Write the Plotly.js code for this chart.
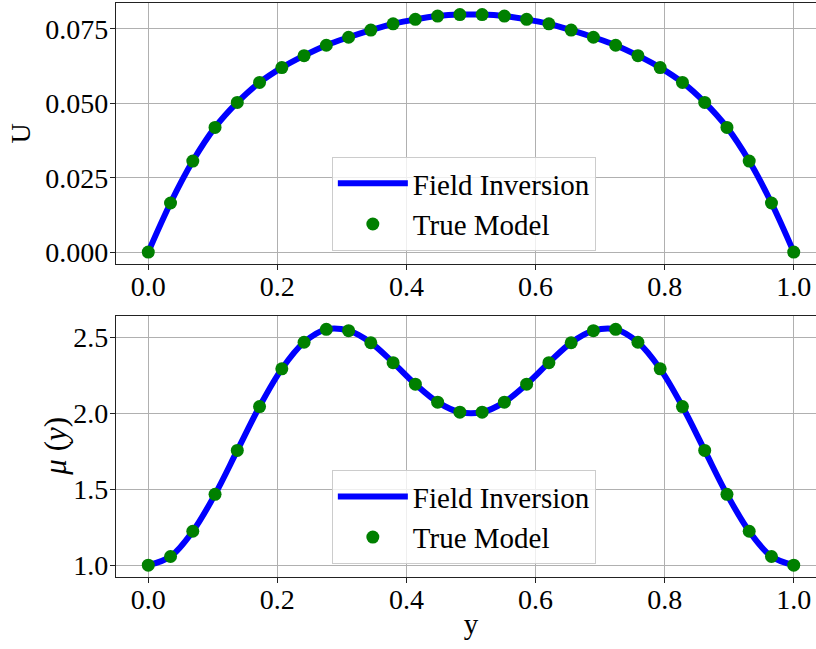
<!DOCTYPE html>
<html>
<head>
<meta charset="utf-8">
<script src="https://cdn.plot.ly/plotly-3.0.1.min.js"></script>
<style>
html,body{margin:0;padding:0;overflow:hidden;width:816px;height:649px;background:#fff;}
#chart{width:826px;height:649px;}
</style>
</head>
<body>
<div id="chart"></div>
<script>
// y positions (30 points, i/29)
var yPos = [];
for (var i = 0; i < 30; i++) { yPos.push(i / 29); }

// Velocity U
var uValues = [0.0, 0.0165, 0.0306, 0.0419, 0.0503, 0.0570, 0.0620, 0.0660, 0.0695, 0.0722,
               0.0746, 0.0767, 0.0782, 0.0793, 0.0798, 0.0798, 0.0793, 0.0782, 0.0767, 0.0746,
               0.0722, 0.0695, 0.0660, 0.0620, 0.0570, 0.0503, 0.0419, 0.0306, 0.0165, 0.0];

// Viscosity mu(y)
var muValues = [1.000, 1.057, 1.223, 1.466, 1.755, 2.044, 2.292, 2.467, 2.552, 2.543,
                2.464, 2.333, 2.191, 2.073, 2.007, 2.007, 2.073, 2.191, 2.333, 2.464,
                2.543, 2.552, 2.467, 2.292, 2.044, 1.755, 1.466, 1.223, 1.057, 1.000];

var xTickVals = [0, 0.2, 0.4, 0.6, 0.8, 1.0];
var xTickText = ["0.0", "0.2", "0.4", "0.6", "0.8", "1.0"];
var uTickVals = [0, 0.025, 0.05, 0.075];
var uTickText = ["0.000", "0.025", "0.050", "0.075"];
var muTickVals = [1.0, 1.5, 2.0, 2.5];
var muTickText = ["1.0", "1.5", "2.0", "2.5"];

var FONT = "Liberation Serif, Times New Roman, serif";
var lineStyle = {color: "#0000ff", width: 6, shape: "spline", smoothing: 1};
var markerStyle = {color: "#008000", size: 13};

var traces = [
  {x: yPos, y: uValues, mode: "lines", name: "Field Inversion", line: lineStyle, xaxis: "x", yaxis: "y", legend: "legend"},
  {x: yPos, y: uValues, mode: "markers", name: "True Model", marker: markerStyle, xaxis: "x", yaxis: "y", legend: "legend"},
  {x: yPos, y: muValues, mode: "lines", name: "Field Inversion", line: lineStyle, xaxis: "x2", yaxis: "y2", legend: "legend2"},
  {x: yPos, y: muValues, mode: "markers", name: "True Model", marker: markerStyle, xaxis: "x2", yaxis: "y2", legend: "legend2"}
];

function xAxis(anchor, title) {
  var a = {
    anchor: anchor, range: [-0.05, 1.05], tickvals: xTickVals, ticktext: xTickText,
    showgrid: true, gridcolor: "#b0b0b0", gridwidth: 1,
    showline: true, linecolor: "#222", linewidth: 1.2, mirror: true,
    ticks: "outside", ticklen: 5, tickcolor: "#222", ticklabelstandoff: -8,
    tickfont: {family: FONT, size: 28, color: "#000"}, zeroline: false
  };
  if (title) a.title = {text: title, font: {family: FONT, size: 29, color: "#000"}, standoff: 0};
  return a;
}
function yAxis(anchor, domain, range, tv, tt, title, tsize, so) {
  var a = {
    anchor: anchor, domain: domain, range: range, tickvals: tv, ticktext: tt,
    showgrid: true, gridcolor: "#b0b0b0", gridwidth: 1,
    showline: true, linecolor: "#222", linewidth: 1.2, mirror: true,
    ticks: "outside", ticklen: 5, tickcolor: "#222", ticklabelstandoff: -4,
    tickfont: {family: FONT, size: 28, color: "#000"}, zeroline: false
  };
  if (title) a.title = {text: title, font: {family: FONT, size: tsize, color: "#000"}, standoff: so};
  return a;
}

var legendBase = {
  xref: "paper", yref: "paper", xanchor: "left", yanchor: "top",
  bgcolor: "rgba(255,255,255,0.8)", bordercolor: "#cccccc", borderwidth: 1,
  font: {family: FONT, size: 29, color: "#000"}, tracegroupgap: 0, itemwidth: 70
};

var layout = {
  width: 826, height: 649,
  margin: {l: 116, r: 0, t: 3, b: 72},
  paper_bgcolor: "#fff", plot_bgcolor: "#fff",
  showlegend: true,
  xaxis: xAxis("y", null),
  yaxis: yAxis("x", [0.5453, 1.0], [-0.00399, 0.0837], uTickVals, uTickText, "U", 28, 6),
  xaxis2: xAxis("y2", "y"),
  yaxis2: yAxis("x2", [0, 0.4542], [0.922, 2.638], muTickVals, muTickText, null),
  legend: Object.assign({}, legendBase, {x: 0.304, y: 0.7318}),
  legend2: Object.assign({}, legendBase, {x: 0.304, y: 0.1863}),
  annotations: [{
    text: "<i>μ</i> (<i>y</i>)", xref: "paper", yref: "paper", x: 0, y: 0.2271,
    xanchor: "center", yanchor: "middle", xshift: -60, textangle: -90, showarrow: false,
    font: {family: FONT, size: 31, color: "#000"}
  }]
};

Plotly.newPlot("chart", traces, layout, {displayModeBar: false, staticPlot: true});
</script>
</body>
</html>
